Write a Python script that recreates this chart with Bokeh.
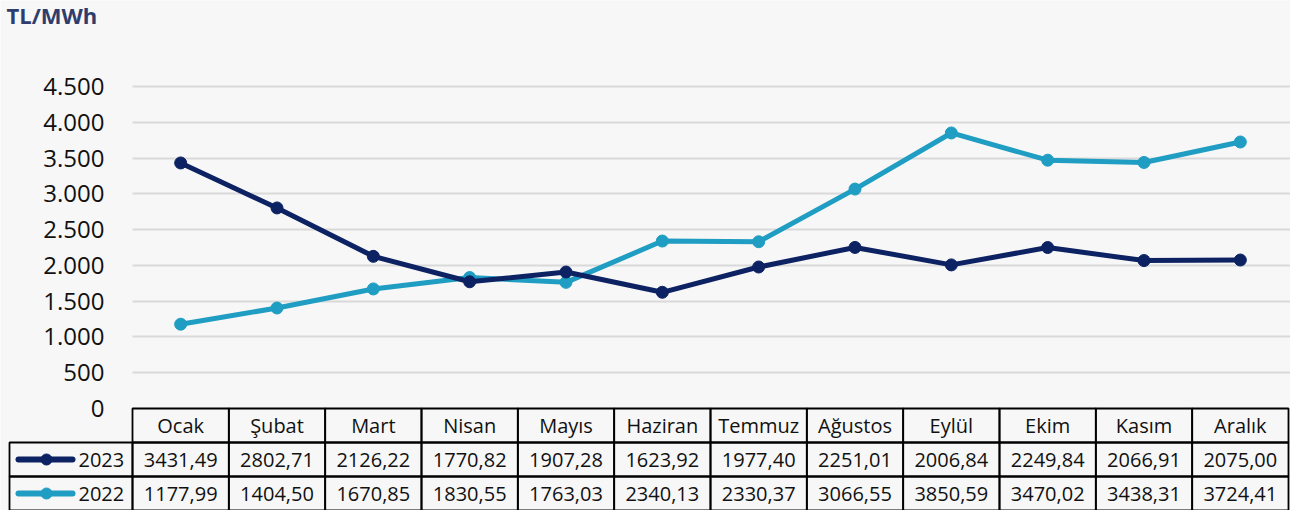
from bokeh.plotting import figure
from bokeh.models import Range1d, LinearAxis, FixedTicker, Grid, CustomJSTickFormatter, ColumnDataSource, Label
from bokeh.core.properties import value
from bokeh.embed import file_html
from bokeh.resources import INLINE

# ---------------- data ----------------
months = ["Ocak", "Şubat", "Mart", "Nisan", "Mayıs", "Haziran", "Temmuz",
          "Ağustos", "Eylül", "Ekim", "Kasım", "Aralık"]
series_names = ["2023", "2022"]
values_2023 = [3431.49, 2802.71, 2126.22, 1770.82, 1907.28, 1623.92, 1977.40,
               2251.01, 2006.84, 2249.84, 2066.91, 2075.00]
values_2022 = [1177.99, 1404.50, 1670.85, 1830.55, 1763.03, 2340.13, 2330.37,
               3066.55, 3850.59, 3470.02, 3438.31, 3724.41]
y_ticks = [0, 500, 1000, 1500, 2000, 2500, 3000, 3500, 4000, 4500]
unit_label = "TL/MWh"

# ---------------- styles / geometry (pixels) ----------------
C2023 = "#0c2262"
C2022 = "#1f9dc2"
BG = "#f7f7f7"
FONT = "Open Sans"

W, H = 1290, 510
tbl_left_px, col0_px, colend_px = 9, 132, 1288
zero_px, top_tick_px = 408, 86
n = len(months)
col_w = (colend_px - col0_px) / n
x_start = (0 - col0_px) / col_w
x_end = (W - col0_px) / col_w
k = (zero_px - top_tick_px) / y_ticks[-1]
y_start = -(H - zero_px) / k
y_end = zero_px / k
n_rows = 3
row_h = (H - zero_px) / n_rows
t_end = zero_px / row_h


def px(xp):
    return (xp - col0_px) / col_w


p = figure(width=W, height=H,
           x_range=Range1d(x_start, x_end), y_range=Range1d(y_start, y_end),
           x_axis_type=None, y_axis_type=None,
           output_backend="svg", toolbar_location=None,
           min_border_left=0, min_border_right=0, min_border_bottom=0, min_border_top=0)
p.extra_y_ranges = {"tbl": Range1d(-n_rows, t_end)}
p.background_fill_color = BG
p.border_fill_color = BG
p.outline_line_color = None
p.grid.visible = False

p.add_layout(Label(x=6, y=H + 1, x_units="screen", y_units="screen", text=unit_label,
                   text_font=FONT, text_font_size="22px", text_font_style="bold",
                   text_color="#2f3d6d", text_baseline="top", text_align="left"))

# y axis placed inside the frame at the start of month columns
yax = LinearAxis(fixed_location=0, ticker=FixedTicker(ticks=y_ticks),
                 formatter=CustomJSTickFormatter(
                     code="return Math.round(tick).toString().replace(/\\B(?=(\\d{3})+(?!\\d))/g, '.');"))
yax.axis_line_color = None
yax.major_tick_line_color = None
yax.minor_tick_line_color = None
yax.major_tick_out = 0
yax.major_tick_in = 0
yax.major_label_standoff = 28
yax.major_label_text_font = FONT
yax.major_label_text_font_size = "24px"
yax.major_label_text_color = "#111111"
p.add_layout(yax, "left")

p.add_layout(Grid(dimension=1, ticker=FixedTicker(ticks=y_ticks[1:]),
                  cross_bounds=(0, x_end), grid_line_color="#d9d9d9", grid_line_width=2))

# ---------------- lines ----------------
xs = [i + 0.5 for i in range(n)]
for vals, col in ((values_2022, C2022), (values_2023, C2023)):
    p.line(xs, vals, line_width=5, line_color=col, line_join="round")
    p.scatter(xs, vals, size=12, fill_color=col, line_color=col)

# ---------------- data table ----------------
cell_l, cell_r, cell_t, cell_b = [], [], [], []
for r in range(n_rows):
    for i in range(n):
        cell_l.append(i); cell_r.append(i + 1); cell_t.append(-r); cell_b.append(-r - 1)
for r in range(1, n_rows):
    cell_l.append(px(tbl_left_px)); cell_r.append(0); cell_t.append(-r); cell_b.append(-r - 1)
p.quad(left=cell_l, right=cell_r, top=cell_t, bottom=cell_b, fill_color=None,
       line_color="#000000", line_width=1.8, y_range_name="tbl")

txt_x, txt_y, txt = [], [], []
for i, m in enumerate(months):
    txt_x.append(i + 0.5); txt_y.append(-0.5); txt.append(m)
for r, vals in enumerate((values_2023, values_2022)):
    for i, v in enumerate(vals):
        txt_x.append(i + 0.5); txt_y.append(-r - 1.5); txt.append(f"{v:.2f}".replace(".", ","))
src = ColumnDataSource(dict(x=txt_x, y=txt_y, t=txt))
p.text(x="x", y="y", text="t", source=src, text_font=value(FONT), text_font_size="20px",
       text_align="center", text_baseline="middle", text_color="#111111", y_range_name="tbl")

# legend keys inside the table
for r, (name, col) in enumerate(zip(series_names, (C2023, C2022))):
    yy = -r - 1.5
    p.line([px(18), px(72)], [yy, yy], line_width=6, line_color=col, line_cap="round", y_range_name="tbl")
    p.scatter([px(46)], [yy], size=11, fill_color=col, line_color=col, y_range_name="tbl")
    p.text([px(78)], [yy], text=[name], text_font=value(FONT), text_font_size="20px",
           text_align="left", text_baseline="middle", text_color="#111111", y_range_name="tbl")

open("out.html", "w").write(file_html(p, INLINE))
